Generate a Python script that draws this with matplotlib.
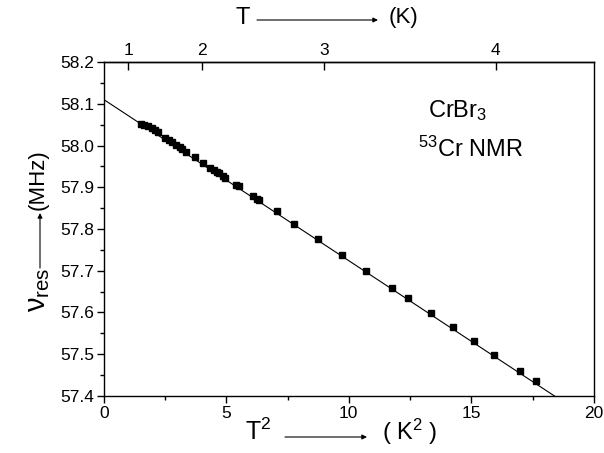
import numpy as np
import matplotlib
matplotlib.use("Agg")
import matplotlib.pyplot as plt
from matplotlib.ticker import MultipleLocator

plt.rcParams['font.family'] = ['Liberation Sans', 'DejaVu Sans']
plt.rcParams['mathtext.fontset'] = 'custom'
plt.rcParams['mathtext.rm'] = 'Liberation Sans'
plt.rcParams['mathtext.it'] = 'Liberation Sans'

# Measured 53Cr resonance frequency vs. T^2
t_squared = [1.50, 1.65, 1.80, 1.95, 2.10, 2.20, 2.50, 2.65, 2.80, 2.95,
             3.10, 3.20, 3.35, 3.70, 4.05, 4.33, 4.50, 4.60, 4.70, 4.85,
             4.95, 5.40, 5.50, 6.10, 6.25, 6.35, 7.05, 7.77, 8.75, 9.71,
             10.72, 11.78, 12.41, 13.35, 14.24, 15.10, 15.93, 16.97, 17.63]
nu_res = [58.052, 58.050, 58.047, 58.043, 58.037, 58.032, 58.019, 58.013, 58.008, 58.002,
          57.996, 57.991, 57.985, 57.972, 57.958, 57.947, 57.941, 57.937, 57.933, 57.927,
          57.923, 57.906, 57.902, 57.879, 57.873, 57.869, 57.842, 57.813, 57.776, 57.738,
          57.699, 57.658, 57.635, 57.599, 57.564, 57.532, 57.499, 57.460, 57.436]

# Linear fit nu = nu0 + b * T^2
fit_intercept = 58.11
fit_slope = -0.0386
fit_range = [0.0, 20.0]

top_ticks = [1, 2, 3, 4]

fig = plt.figure(figsize=(6.04, 4.53), dpi=100)
ax = fig.add_axes([0.172, 0.126, 0.811, 0.737])

xf = np.array(fit_range)
ax.plot(xf, fit_intercept + fit_slope * xf, color='black', lw=0.8)
ax.plot(t_squared, nu_res, 's', color='black', ms=4.2, mec='black')

ax.set_xlim(0, 20)
ax.set_ylim(57.4, 58.2)
ax.xaxis.set_major_locator(MultipleLocator(5))
ax.xaxis.set_minor_locator(MultipleLocator(2.5))
ax.yaxis.set_major_locator(MultipleLocator(0.1))
ax.yaxis.set_minor_locator(MultipleLocator(0.05))
ax.yaxis.set_major_formatter(matplotlib.ticker.FormatStrFormatter('%.1f'))
ax.tick_params(axis='both', which='major', direction='out', length=5, width=1,
               labelsize=12.5, pad=2)
ax.tick_params(axis='both', which='minor', direction='out', length=3, width=1)
ax.tick_params(top=False, right=False, which='both')
for s in ax.spines.values():
    s.set_linewidth(1.0)

# Temperature scale on top, placed at T^2
sec = ax.secondary_xaxis('top', functions=(np.sqrt, np.square))
sec.set_xticks(top_ticks)
sec.xaxis.set_minor_locator(matplotlib.ticker.NullLocator())
sec.tick_params(direction='in', length=6, width=1, labelsize=12.5, pad=3)
sec.spines['top'].set_linewidth(1.0)

ax.text(0.723, 0.835, r'CrBr$_3$', transform=ax.transAxes, ha='center',
        va='baseline', fontsize=17)
ax.text(0.749, 0.716, r'$^{53}$Cr NMR', transform=ax.transAxes, ha='center',
        va='baseline', fontsize=17)

def fx(px):
    return px / 604.0

def fy(py):
    return 1 - py / 453.0

arrow = dict(arrowstyle='-|>', lw=0.8, color='black', mutation_scale=7,
             shrinkA=0, shrinkB=0)

# bottom axis label
fig.text(fx(258), fy(432), r'T$^2$', ha='center', va='center', fontsize=18)
fig.text(fx(410), fy(432), r'( K$^2$ )', ha='center', va='center', fontsize=17)
fig.add_artist(matplotlib.patches.FancyArrowPatch(
    (fx(285), fy(437)), (fx(367), fy(437)), transform=fig.transFigure, **arrow))

# top axis label
fig.text(fx(243), fy(18), 'T', ha='center', va='center', fontsize=17)
fig.text(fx(404), fy(18), '(K)', ha='center', va='center', fontsize=16)
fig.add_artist(matplotlib.patches.FancyArrowPatch(
    (fx(257), fy(20)), (fx(378), fy(20)), transform=fig.transFigure, **arrow))

# y axis label
fig.text(fx(38), fy(290), r'$\mathregular{\nu_{res}}$', ha='center', va='center',
         fontsize=21, rotation=90)
fig.text(fx(38), fy(180), '(MHz)', ha='center', va='center', fontsize=16,
         rotation=90)
fig.add_artist(matplotlib.patches.FancyArrowPatch(
    (fx(40), fy(268)), (fx(40), fy(213)), transform=fig.transFigure, **arrow))

fig.savefig('out.png', dpi=100, facecolor='white')
